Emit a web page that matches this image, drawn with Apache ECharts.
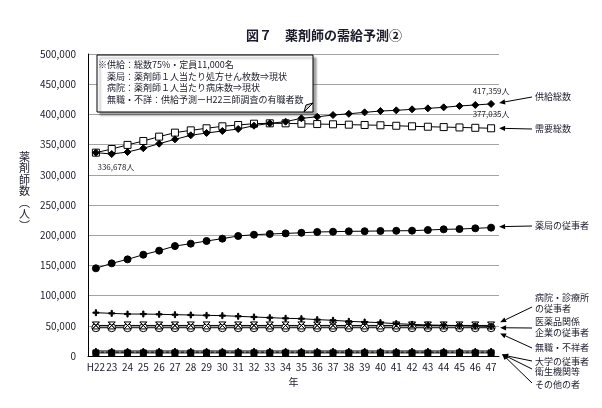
<!DOCTYPE html>
<html><head><meta charset="utf-8">
<script src="https://cdn.jsdelivr.net/npm/echarts@6/dist/echarts.min.js"></script>
<style>html,body{margin:0;padding:0;background:#fff}#c{width:602px;height:408px}</style>
</head><body><div id="c"></div>
<script>
const categories = ['H22','23','24','25','26','27','28','29','30','31','32','33','34','35','36','37','38','39','40','41','42','43','44','45','46','47'];
const yTicks = {min: 0, max: 500000, interval: 50000};
const supply = [336678,334400,337700,344000,351500,358700,365400,369200,372500,375800,381300,385200,388000,393500,396000,399000,401000,403400,405600,406700,408400,410000,411700,414000,415600,417359];
const demand = [336678,342700,349500,356000,363200,369800,373600,377000,380300,382500,384600,385200,385200,384500,384000,383600,383000,382500,382000,381200,380300,379600,379000,378400,377800,377035];
const pharmacy = [145200,153400,160000,167700,174400,182000,186000,190400,194300,198700,200800,202000,203000,204000,205300,205800,206400,206600,207000,207300,207500,208600,209700,210200,211400,212500];
const hospital = [71700,70600,69500,69500,69000,68400,67900,67300,66800,65700,64600,63500,62400,61800,60200,59100,57400,56300,55200,53500,52400,51300,50800,50200,49700,49100];
const company = [46800,46800,46800,46800,46800,46800,46800,46800,46800,46800,46800,46800,46800,46800,46800,46800,46800,46800,46800,46800,46800,46800,46800,46800,46800,46800];
const unemployed = [50600,50600,50600,50600,50600,50600,50600,50600,50600,50600,50600,50600,50600,50600,50600,50600,50600,50600,50600,50600,50600,50600,50600,50600,50600,50600];
const university = [5100,5100,5100,5100,5100,5100,5100,5100,5100,5100,5100,5100,5100,5100,5100,5100,5100,5100,5100,5100,5100,5100,5100,5100,5100,5100];
const health = [6400,6400,6400,6400,6400,6400,6400,6400,6400,6400,6400,6400,6400,6400,6400,6400,6400,6400,6400,6400,6400,6400,6400,6400,6400,6400];
const others = [8300,8300,8300,8300,8300,8300,8300,8300,8300,8300,8300,8300,8300,8300,8300,8300,8300,8300,8300,8300,8300,8300,8300,8300,8300,8300];
const noteLines = ['※供給：総数75%・定員11,000名','　薬局：薬剤師１人当たり処方せん枚数⇒現状','　病院：薬剤師１人当たり病床数⇒現状','　無職・不詳：供給予測ーH22三師調査の有職者数'];
const rightLabels = [
  {text:'供給総数', data: supply, ty: 97, dx: 8, dy: -1},
  {text:'需要総数', data: demand, ty: 129, dx: 8, dy: 0},
  {text:'薬局の従事者', data: pharmacy, ty: 226, dx: 8, dy: -1},
  {text:'病院・診療所\nの従事者', data: hospital, ty: 303, ay: 307, dx: 9, dy: -4},
  {text:'医薬品関係\n企業の従事者', data: company, ty: 327, ay: 328, dx: 9, dy: 0},
  {text:'無職・不祥者', data: unemployed, ty: 348, ay: 348, dx: 9, dy: 8},
  {text:'大学の従事者', data: university, ty: 362, ay: 361, dx: 11, dy: 2},
  {text:'衛生機関等', data: health, ty: 372, ay: 369, dx: 11, dy: 2},
  {text:'その他の者', data: others, ty: 385, ay: 383, dx: 11, dy: 3}
];

const FONT = '"Noto Sans CJK JP", sans-serif';
const TXT = '#1b1b2b';
const plusPath = 'path://M4,0H6V4H10V6H6V10H4V6H0V4H4Z';
const crossPath = 'path://M0,0H10L5,5ZM0,10H10L5,5Z M0,0L10,10M10,0L0,10';
const fmt = v => v.toLocaleString('en-US');

function lineSeries(name, data, symbol, size, opts) {
  return Object.assign({
    name, type: 'line', data, symbol, symbolSize: size, showSymbol: true,
    lineStyle: {color: '#000', width: 1},
    itemStyle: {color: '#000', borderColor: '#000', borderWidth: 1},
    emphasis: {disabled: true}, animation: false, z: 3
  }, opts || {});
}

const chart = echarts.init(document.getElementById('c'), null, {renderer: 'canvas'});
const lbl = (pos, dist, off) => ({show: true, position: pos, distance: dist, offset: off || [0, 0], formatter: p => fmt(p.value) + '人', fontSize: 8, color: TXT, fontFamily: FONT});
const supplyData = supply.map((v, i) => i === supply.length - 1 ? {value: v, label: lbl('top', 5)} : v);
const demandData = demand.map((v, i) => {
  if (i === demand.length - 1) return {value: v, label: lbl('top', 6)};
  if (i === 0) return {value: v, label: lbl('bottom', 6, [20, 0])};
  return v;
});

chart.setOption({
  animation: false,
  textStyle: {fontFamily: FONT},
  title: {text: '図７　薬剤師の需給予測②', left: 241, top: 24, textStyle: {fontSize: 13, fontWeight: 'bold', color: TXT, fontFamily: FONT}},
  grid: {left: 88, right: 103, top: 54, bottom: 52, containLabel: false},
  xAxis: {
    type: 'category', data: categories, boundaryGap: true,
    name: '年', nameLocation: 'middle', nameGap: 20,
    nameTextStyle: {fontSize: 10, color: TXT, fontFamily: FONT},
    axisLine: {lineStyle: {color: '#000', width: 1}},
    axisTick: {show: false},
    axisLabel: {interval: 0, fontSize: 10, color: TXT, margin: 6, fontFamily: FONT}
  },
  yAxis: {
    type: 'value', min: yTicks.min, max: yTicks.max, interval: yTicks.interval,
    axisLine: {show: true, lineStyle: {color: '#000', width: 1}},
    axisTick: {show: false},
    axisLabel: {fontSize: 10, color: TXT, margin: 12, formatter: v => fmt(v), fontFamily: FONT},
    splitLine: {lineStyle: {color: '#a3a3a3', width: 1}}
  },
  series: [
    lineSeries('その他の者', others, 'triangle', 6),
    lineSeries('衛生機関等', health, plusPath, 6, {lineStyle: {color: '#000', width: 1, type: [3, 2]}}),
    lineSeries('大学の従事者', university, 'rect', 6),
    lineSeries('医薬品関係企業の従事者', company, 'circle', 8, {itemStyle: {color: '#fff', borderColor: '#000', borderWidth: 1}}),
    lineSeries('無職・不詳者', unemployed, crossPath, 7, {itemStyle: {color: '#fff', borderColor: '#000', borderWidth: 1}}),
    lineSeries('病院・診療所の従事者', hospital, plusPath, 6),
    lineSeries('薬局の従事者', pharmacy, 'circle', 7),
    lineSeries('需要総数', demandData, 'rect', 7, {itemStyle: {color: '#fff', borderColor: '#000', borderWidth: 1}}),
    lineSeries('供給総数', supplyData, 'diamond', 7)
  ]
});

function arrow(x1, y1, x2, y2) {
  const ang = Math.atan2(y2 - y1, x2 - x1);
  const L = 6, W = 2.6;
  const bx = x2 - L * Math.cos(ang), by = y2 - L * Math.sin(ang);
  const nx = -Math.sin(ang) * W, ny = Math.cos(ang) * W;
  return [
    {type: 'line', shape: {x1, y1, x2: bx, y2: by}, style: {stroke: '#000', lineWidth: 1}, silent: true},
    {type: 'polygon', shape: {points: [[x2, y2], [bx + nx, by + ny], [bx - nx, by - ny]]}, style: {fill: '#000'}, silent: true}
  ];
}

const last = categories.length - 1;
const g = [];
g.push({type: 'text', left: 19, top: 151, style: {text: '薬\n剤\n師\n数\n︵\n人\n︶', fontSize: 11, lineHeight: 11.5, fill: TXT, fontFamily: FONT, align: 'center'}, silent: true});
g.push({type: 'rect', shape: {x: 97, y: 55, width: 216, height: 57}, style: {fill: '#fff', stroke: '#000', lineWidth: 1, shadowColor: 'rgba(0,0,0,0.35)', shadowOffsetX: 3, shadowOffsetY: 3, shadowBlur: 2}, z: 50, silent: true});
g.push({type: 'polygon', shape: {points: [[313, 103], [304, 112], [306, 105]]}, style: {fill: '#ccc', stroke: '#000', lineWidth: 1}, z: 51, silent: true});
noteLines.forEach((t, i) => {
  g.push({type: 'text', x: 98, y: 65 + i * 11.5, style: {text: t, fontSize: 9, fill: TXT, fontFamily: FONT, verticalAlign: 'middle'}, z: 52, silent: true});
});
rightLabels.forEach(r => {
  const p = chart.convertToPixel({xAxisIndex: 0, yAxisIndex: 0}, [last, r.data[last]]);
  g.push({type: 'text', x: 535, y: r.ty, style: {text: r.text, fontSize: 9, lineHeight: 11, fill: TXT, fontFamily: FONT, verticalAlign: 'middle'}, silent: true});
  const ay = r.ay !== undefined ? r.ay : r.ty;
  arrow(532, ay, p[0] + r.dx, p[1] + r.dy).forEach(e => g.push(e));
});
chart.setOption({graphic: {elements: g}});
</script></body></html>
